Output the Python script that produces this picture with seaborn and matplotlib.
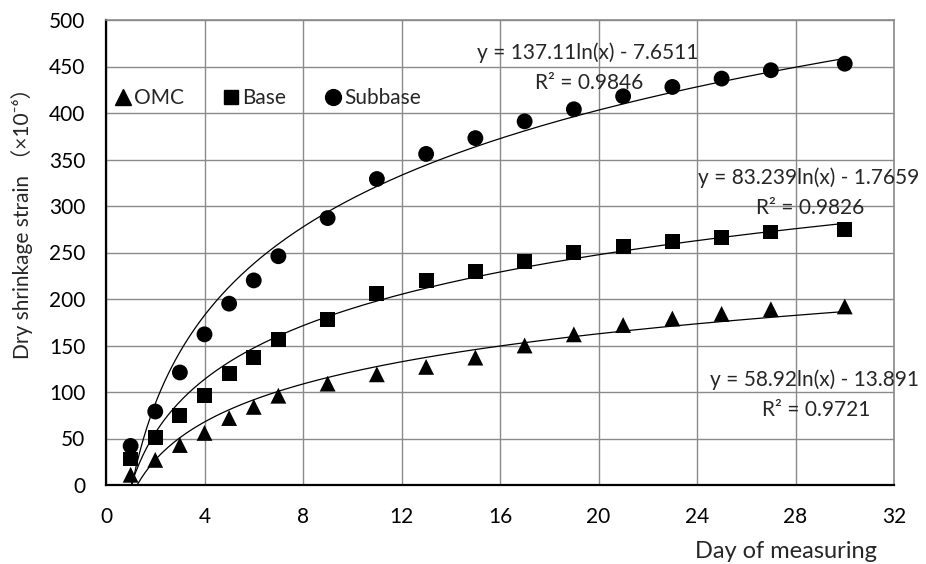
import numpy as np
import pandas as pd
import matplotlib
matplotlib.use("Agg")
import matplotlib.pyplot as plt
import seaborn as sns
from matplotlib.lines import Line2D

days = [1, 2, 3, 4, 5, 6, 7, 9, 11, 13, 15, 17, 19, 21, 23, 25, 27, 30]
omc = [11, 27, 43, 56, 72, 84, 96, 109, 119, 127, 137, 150, 162, 172, 179, 184, 189, 192]
base = [28, 51, 75, 96, 120, 137, 156, 178, 206, 220, 230, 240, 250, 256, 262, 266, 272, 275]
subbase = [42, 79, 121, 162, 195, 220, 246, 287, 329, 356, 373, 391, 404, 418, 428, 437, 446, 453]

series_names = ["OMC", "Base", "Subbase"]
fit_a = [58.92, 83.239, 137.11]
fit_b = [-13.891, -1.7659, -7.6511]
fit_eq = ["y = 58.92ln(x) - 13.891", "y = 83.239ln(x) - 1.7659", "y = 137.11ln(x) - 7.6511"]
fit_r2 = ["R² = 0.9721", "R² = 0.9826", "R² = 0.9846"]

x_ticks = [0, 4, 8, 12, 16, 20, 24, 28, 32]
y_ticks = [0, 50, 100, 150, 200, 250, 300, 350, 400, 450, 500]

df = pd.DataFrame({
    "day": days * 3,
    "strain": omc + base + subbase,
    "series": ["OMC"] * len(days) + ["Base"] * len(days) + ["Subbase"] * len(days),
})

sns.set_theme(style="white")
plt.rcParams['font.family'] = ['Lato', 'Noto Sans CJK SC', 'DejaVu Sans']

FS = 15
fig = plt.figure(figsize=(9.26, 5.64), dpi=100)
ax = fig.add_axes([106/926, 1-485/564, 788/926, 465/564])

markers = {"OMC": "^", "Base": "s", "Subbase": "o"}
sizes = {"OMC": 130, "Base": 115, "Subbase": 130}
for name in series_names:
    sub = df[df["series"] == name]
    sns.scatterplot(data=sub, x="day", y="strain", marker=markers[name], s=sizes[name],
                    color="black", edgecolor="none", linewidth=0, ax=ax, legend=False, zorder=3)

# logarithmic trendlines (Excel style) over the data range
xx = np.linspace(min(days), max(days), 400)
for a, b in zip(fit_a, fit_b):
    sns.lineplot(x=xx, y=a * np.log(xx) + b, color="black", linewidth=0.9, ax=ax, zorder=2)

ax.set_xlim(0, 32)
ax.set_ylim(0, 500)
ax.set_xticks(x_ticks)
ax.set_yticks(y_ticks)
ax.set_xticklabels([str(t) for t in x_ticks])
ax.set_yticklabels([str(t) for t in y_ticks])
ax.tick_params(axis="both", length=0, labelsize=FS, colors="black")
ax.tick_params(axis="x", pad=16)
ax.tick_params(axis="y", pad=15)
ax.grid(True, color="#8a8a8a", linewidth=1.0)
ax.set_axisbelow(True)
for side in ["top", "right"]:
    ax.spines[side].set_color("#8a8a8a")
    ax.spines[side].set_linewidth(1.2)
for side in ["left", "bottom"]:
    ax.spines[side].set_color("black")
    ax.spines[side].set_linewidth(1.6)
ax.set_xlabel("")
ax.set_ylabel("")

# annotations (positions in figure pixels)
eq_pos = [((815, 380), (816, 410)), ((809, 178), (810, 208)), ((588, 53), (589, 83))]
for eq, r2, (p1, p2) in zip(fit_eq, fit_r2, eq_pos):
    ax.annotate(eq, xy=(p1[0]/926, 1-p1[1]/564), xycoords="figure fraction",
                ha="center", va="center", fontsize=FS)
    ax.annotate(r2, xy=(p2[0]/926, 1-p2[1]/564), xycoords="figure fraction",
                ha="center", va="center", fontsize=FS)

# legend
handles = [Line2D([], [], marker=markers[n], color="black", linestyle="none",
                  markersize=np.sqrt(sizes[n])) for n in series_names]
ax.legend(handles, series_names, loc="center left", bbox_to_anchor=(-0.008, (485-98)/465),
          frameon=False, ncol=3, fontsize=FS, handletextpad=0.05, columnspacing=1.75,
          handlelength=1.0, borderaxespad=0.2)

fig.text(22/926, 1-218/564, "Dry shrinkage strain （×10⁻⁶）", rotation=90,
         ha="center", va="center", fontsize=FS)
fig.text(877/926, 1-551/564, "Day of measuring", ha="right", va="center", fontsize=17)

fig.savefig("out.png", dpi=100)
